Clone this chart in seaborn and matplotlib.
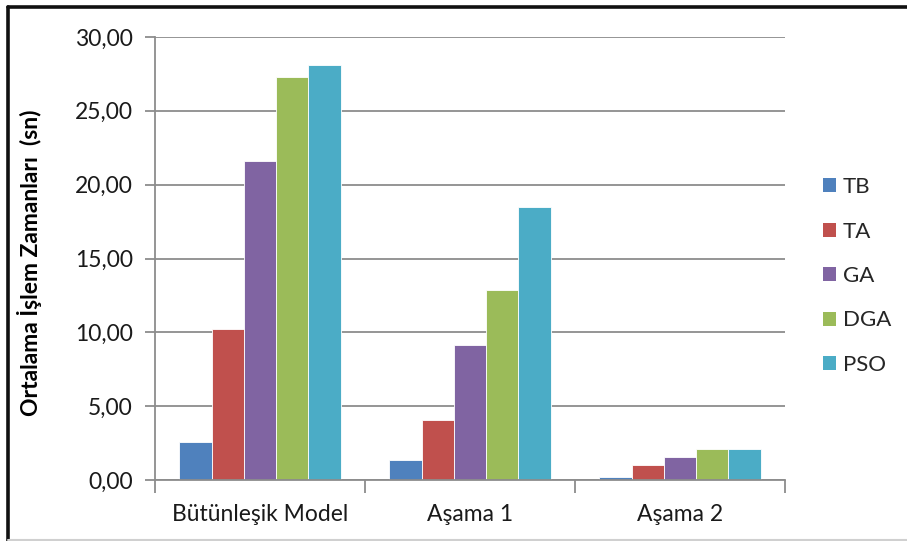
import matplotlib
matplotlib.use("Agg")
import matplotlib.pyplot as plt
import matplotlib.ticker as mticker
from matplotlib.patches import Patch
from matplotlib.lines import Line2D
import pandas as pd
import seaborn as sns

# Average processing times (seconds) per method and problem stage
categories = ["Bütünleşik Model", "Aşama 1", "Aşama 2"]
methods = ["TB", "TA", "GA", "DGA", "PSO"]
tb = [2.55, 1.35, 0.22]
ta = [10.25, 4.08, 1.04]
ga = [21.60, 9.12, 1.54]
dga = [27.30, 12.90, 2.08]
pso = [28.10, 18.50, 2.08]
yticks = [0, 5, 10, 15, 20, 25, 30]

colors = ["#4F81BD", "#C0504D", "#8064A2", "#9BBB59", "#4BACC6"]

series = dict(zip(methods, [tb, ta, ga, dga, pso]))
df = pd.DataFrame(
    [(c, m, v) for m in methods for c, v in zip(categories, series[m])],
    columns=["Kategori", "Yöntem", "Süre"],
)

sns.set_theme(style="white")
plt.rcParams["font.family"] = ["Lato", "DejaVu Sans"]

fig = plt.figure(figsize=(9.07, 5.41), dpi=100)
ax = fig.add_axes([155 / 907, 1 - 480 / 541, 630 / 907, 443 / 541])

sns.barplot(
    data=df, x="Kategori", y="Süre", hue="Yöntem",
    order=categories, hue_order=methods, palette=colors,
    width=5 / 6.5, saturation=1, edgecolor="white", linewidth=0.6,
    legend=False, ax=ax,
)

ax.set_ylim(0, 30)
ax.set_xlim(-0.5, len(categories) - 0.5)
ax.set_yticks(yticks)
ax.yaxis.set_major_formatter(
    mticker.FuncFormatter(lambda v, p: f"{v:.2f}".replace(".", ","))
)
ax.grid(axis="y", color="#8c8c8c", linewidth=1.3)
ax.set_axisbelow(True)

for side in ["top", "right"]:
    ax.spines[side].set_visible(False)
for side in ["left", "bottom"]:
    ax.spines[side].set_color("#8c8c8c")
    ax.spines[side].set_linewidth(1.3)

ax.tick_params(axis="y", which="major", length=7, width=1.3, color="#8c8c8c",
               direction="out", labelsize=16.5, labelcolor="#1a1a1a", pad=9, left=True)
ax.tick_params(axis="x", which="major", length=0, labelsize=16.5,
               labelcolor="#1a1a1a", pad=17)
ax.set_xticks(range(len(categories)))
ax.set_xticklabels(categories)
ax.set_xticks([i - 0.5 for i in range(len(categories) + 1)], minor=True)
ax.tick_params(axis="x", which="minor", length=9, width=1.3, color="#8c8c8c",
               direction="out", bottom=True)

ax.set_xlabel("")
ax.set_ylabel("Ortalama İşlem Zamanları  (sn)", fontsize=16.5, fontweight="bold",
              color="#000000")
ax.yaxis.set_label_coords(-(155 - 42) / 630, 0.49)

handles = [Patch(facecolor=c, edgecolor="none", label=m) for m, c in zip(methods, colors)]
fig.legend(
    handles=handles, loc="center left", bbox_to_anchor=(823 / 907, 1 - 276 / 541),
    frameon=False, fontsize=16, handlelength=0.6, handleheight=0.6,
    handletextpad=0.3, labelspacing=1.1, borderaxespad=0, borderpad=0,
)

# Chart frame: dark top/left edges, light bottom edge
fig.add_artist(Line2D([8 / 907, 1], [1 - 7 / 541, 1 - 7 / 541], color="#111111",
                      linewidth=2.6, transform=fig.transFigure))
fig.add_artist(Line2D([8 / 907, 8 / 907], [1 - 7 / 541, 0], color="#111111",
                      linewidth=2.6, transform=fig.transFigure))
fig.add_artist(Line2D([8 / 907, 1], [1.5 / 541, 1.5 / 541], color="#d0d0d0",
                      linewidth=1.5, transform=fig.transFigure))

fig.savefig("out.png", dpi=100)
